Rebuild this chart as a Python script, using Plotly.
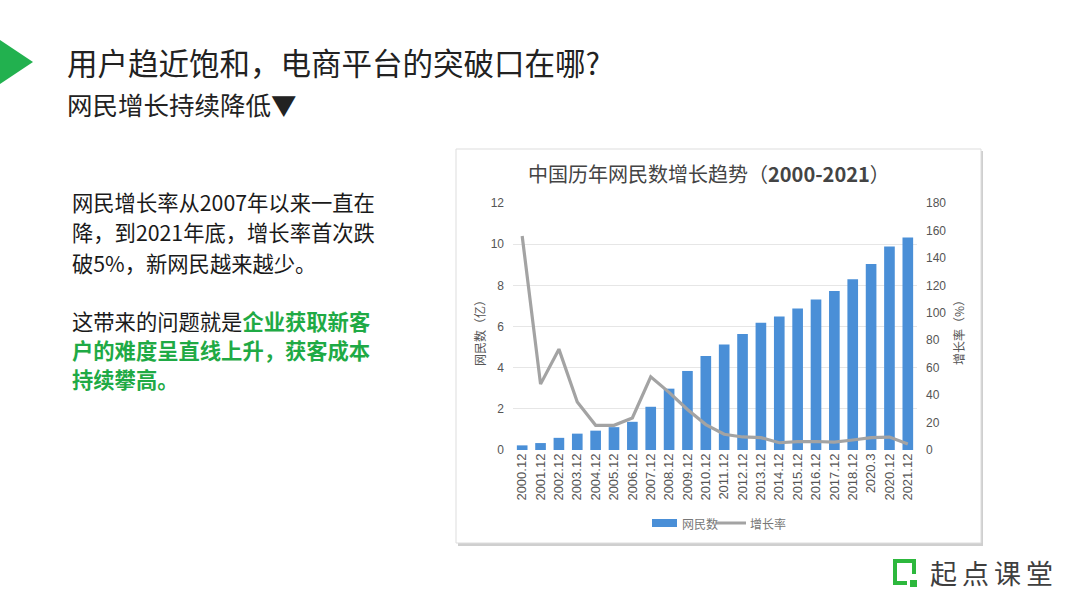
import plotly.graph_objects as go

W, H = 1080, 608

categories = ["2000.12", "2001.12", "2002.12", "2003.12", "2004.12", "2005.12", "2006.12",
              "2007.12", "2008.12", "2009.12", "2010.12", "2011.12", "2012.12", "2013.12",
              "2014.12", "2015.12", "2016.12", "2017.12", "2018.12", "2020.3", "2020.12", "2021.12"]
netizens = [0.225, 0.337, 0.591, 0.795, 0.94, 1.11, 1.37, 2.10, 2.98, 3.84, 4.57,
            5.13, 5.64, 6.18, 6.49, 6.88, 7.31, 7.72, 8.29, 9.04, 9.89, 10.32]
growth = [156, 48, 73.5, 35, 18, 18, 23.4, 53.3, 42, 29.5, 18.5,
          11.5, 9.5, 9, 5.3, 6.1, 6.2, 5.8, 7.3, 9.0, 9.4, 4.3]

left_ticks = [0, 2, 4, 6, 8, 10, 12]
right_ticks = [0, 20, 40, 60, 80, 100, 120, 140, 160, 180]

page_title = "用户趋近饱和，电商平台的突破口在哪?"
page_subtitle = "网民增长持续降低▼"
chart_title = "中国历年网民数增长趋势（<b>2000-2021</b>）"
left_axis_title = "网民数（亿）"
right_axis_title = "增长率（%）"
series_names = ["网民数", "增长率"]
GREEN = "#1faa45"
para_lines = [
    "网民增长率从2007年以来一直在",
    "降，到2021年底，增长率首次跌",
    "破5%，新网民越来越少。",
    "这带来的问题就是<b><span style='color:%s'>企业获取新客</span></b>" % GREEN,
    "<b><span style='color:%s'>户的难度呈直线上升，获客成本</span></b>" % GREEN,
    "<b><span style='color:%s'>持续攀高。</span></b>" % GREEN,
]
para_y = [201, 232, 262, 320, 349, 378]
logo_chars = ["起", "点", "课", "堂"]

BAR_COLOR = "#4a8fd7"
LINE_COLOR = "#a3a3a3"


def px(x):
    return x / W


def py(y):
    return 1 - y / H


CJK = "Noto Sans CJK SC"
LAT = "Liberation Sans, Arial, sans-serif"

fig = go.Figure()
fig.add_trace(go.Bar(
    x=categories, y=netizens, name=series_names[0],
    marker=dict(color=BAR_COLOR, line=dict(width=0)),
    yaxis="y", showlegend=False,
))
fig.add_trace(go.Scatter(
    x=categories, y=growth, name=series_names[1], mode="lines",
    line=dict(color=LINE_COLOR, width=3.2),
    yaxis="y2", showlegend=False,
))

shapes = []
# chart card shadow and card
shapes.append(dict(type="rect", xref="paper", yref="paper", layer="below",
                   x0=px(458), x1=px(983), y0=py(546), y1=py(151),
                   fillcolor="#cfcfcf", line=dict(width=0)))
shapes.append(dict(type="rect", xref="paper", yref="paper", layer="below",
                   x0=px(456), x1=px(981), y0=py(543), y1=py(149),
                   fillcolor="white", line=dict(color="#dddddd", width=1)))
# green triangle
shapes.append(dict(type="path", xref="paper", yref="paper",
                   path="M %f %f L %f %f L %f %f Z" % (px(0), py(40), px(33), py(62), px(0), py(84)),
                   fillcolor="#22b14f", line=dict(width=0)))
# logo icon
shapes.append(dict(type="path", xref="paper", yref="paper",
                   path="M %f %f L %f %f L %f %f L %f %f L %f %f" % (
                       px(914), py(574), px(914), py(561), px(895), py(561), px(895), py(583), px(907), py(583)),
                   line=dict(color="#2db83d", width=4)))
shapes.append(dict(type="rect", xref="paper", yref="paper",
                   x0=px(910), x1=px(917), y0=py(587), y1=py(580),
                   fillcolor="#2db83d", line=dict(width=0)))
# manual legend swatches
shapes.append(dict(type="rect", xref="paper", yref="paper",
                   x0=px(652), x1=px(677), y0=py(527), y1=py(519),
                   fillcolor=BAR_COLOR, line=dict(width=0)))
shapes.append(dict(type="line", xref="paper", yref="paper",
                   x0=px(716), x1=px(746), y0=py(523), y1=py(523),
                   line=dict(color=LINE_COLOR, width=3)))

annotations = []
annotations.append(dict(text=page_title, x=px(65), y=py(62), xref="paper", yref="paper",
                        xanchor="left", yanchor="middle", showarrow=False,
                        font=dict(family=CJK, size=30.5, color="#222222")))
annotations.append(dict(text=page_subtitle, x=px(65), y=py(104), xref="paper", yref="paper",
                        xanchor="left", yanchor="middle", showarrow=False,
                        font=dict(family=CJK, size=25.5, color="#222222")))
for t, yy in zip(para_lines, para_y):
    annotations.append(dict(text=t, x=px(70), y=py(yy), xref="paper", yref="paper",
                            xanchor="left", yanchor="middle", showarrow=False,
                            font=dict(family=CJK, size=21.3, color="#1a1a1a")))
annotations.append(dict(text=chart_title, x=px(709), y=py(173), xref="paper", yref="paper",
                        xanchor="center", yanchor="middle", showarrow=False,
                        font=dict(family=CJK, size=20, color="#444444")))
annotations.append(dict(text=left_axis_title, x=px(479), y=py(330), xref="paper", yref="paper",
                        xanchor="center", yanchor="middle", showarrow=False, textangle=-90,
                        font=dict(family=CJK, size=12, color="#555555")))
annotations.append(dict(text=right_axis_title, x=px(958), y=py(330), xref="paper", yref="paper",
                        xanchor="center", yanchor="middle", showarrow=False, textangle=-90,
                        font=dict(family=CJK, size=12, color="#555555")))
annotations.append(dict(text=series_names[0], x=px(680), y=py(523), xref="paper", yref="paper",
                        xanchor="left", yanchor="middle", showarrow=False,
                        font=dict(family=CJK, size=12, color="#777777")))
annotations.append(dict(text=series_names[1], x=px(748), y=py(523), xref="paper", yref="paper",
                        xanchor="left", yanchor="middle", showarrow=False,
                        font=dict(family=CJK, size=12, color="#777777")))
for i, ch in enumerate(logo_chars):
    annotations.append(dict(text=ch, x=px(943 + 32 * i), y=py(572), xref="paper", yref="paper",
                            xanchor="center", yanchor="middle", showarrow=False,
                            font=dict(family=CJK, size=27, color="#3f3f3f")))

fig.update_layout(
    width=W, height=H,
    margin=dict(l=0, r=0, t=0, b=0, autoexpand=False),
    paper_bgcolor="white", plot_bgcolor="rgba(0,0,0,0)",
    bargap=0.42,
    showlegend=False,
    xaxis=dict(domain=[px(513), px(917)], type="category", tickangle=-90,
               tickfont=dict(family=LAT, size=13, color="#555555"),
               showgrid=False, showline=False, zeroline=False, ticks=""),
    yaxis=dict(domain=[py(450), py(203)], range=[0, 12], tickvals=left_ticks,
               tickfont=dict(family=LAT, size=12, color="#555555"),
               showgrid=True, gridcolor="#e6e6e6", gridwidth=1, zeroline=False,
               showline=False, ticks="", ticklabelstandoff=8),
    yaxis2=dict(overlaying="y", side="right", range=[0, 180], tickvals=right_ticks,
                tickfont=dict(family=LAT, size=12, color="#555555"),
                showgrid=False, zeroline=False, showline=False, ticks="", ticklabelstandoff=8),
    shapes=shapes,
    annotations=annotations,
)

fig.write_html("out.html", config={"displayModeBar": False},
               post_script="document.body.style.margin='0px';")
